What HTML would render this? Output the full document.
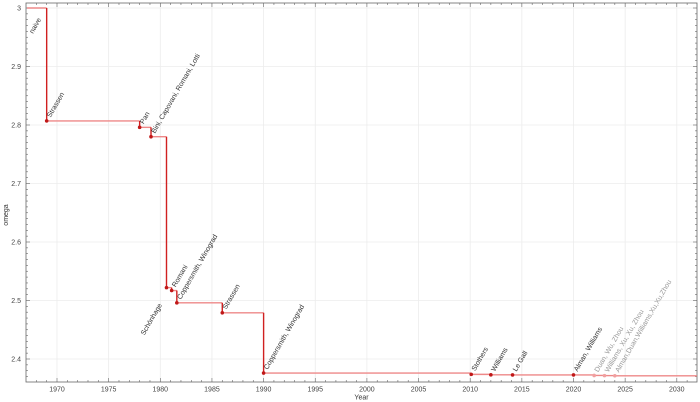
<!DOCTYPE html>
<html><head><meta charset="utf-8"><style>
body{margin:0;background:#fff;}
svg{display:block;font-family:"Liberation Sans","DejaVu Sans",sans-serif;}
</style></head><body>
<svg id="s" width="700" height="402" viewBox="0 0 700 402" xmlns="http://www.w3.org/2000/svg"></svg>
<script>
const s=document.getElementById('s');
const X=y=>57+(y-1970)*10.33, Y=w=>8+(3-w)*585;
const L=26,R=697,T=3,B=382;
let h='';
for(let yr=1970;yr<=2030;yr+=5){const x=X(yr);h+=`<line x1="${x}" y1="${T}" x2="${x}" y2="${B}" stroke="#ececec" stroke-width="0.8"/>`;
 h+=`<text x="${x}" y="${B+9.5}" font-size="7" fill="#444" text-anchor="middle">${yr}</text>`;}
for(let i=0;i<=6;i++){const w=3-i*0.1;const y=Y(w);h+=`<line x1="${L}" y1="${y}" x2="${R}" y2="${y}" stroke="#ececec" stroke-width="0.8"/>`;
 h+=`<text x="${L-5}" y="${y+2.5}" font-size="7" fill="#444" text-anchor="end">${i==0?'3':w.toFixed(1)}</text>`;}
for(let yr=1968;yr<=2031;yr++){const x=X(yr);const l=yr%5==0?4:2;h+=`<line x1="${x}" y1="${B}" x2="${x}" y2="${B-l}" stroke="#666" stroke-width="0.6"/><line x1="${x}" y1="${T}" x2="${x}" y2="${T+l}" stroke="#666" stroke-width="0.6"/>`;}
for(let w=2.37;w<=3.0001;w+=0.01){const y=Y(w);const l=Math.abs(w*10-Math.round(w*10))<0.01?4:2;h+=`<line x1="${L}" y1="${y}" x2="${L+l}" y2="${y}" stroke="#666" stroke-width="0.6"/><line x1="${R}" y1="${y}" x2="${R-l}" y2="${y}" stroke="#666" stroke-width="0.6"/>`;}
h+=`<rect x="${L}" y="${T}" width="${R-L}" height="${B-T}" fill="none" stroke="#666" stroke-width="0.8"/>`;
const pts=[[1967.1,3,'naive'],[1969.0,2.807,'Strassen'],[1978.0,2.796,'Pan'],[1979.1,2.780,'Bini, Capovani, Romani, Lotti'],[1980.6,2.522,'Schönhage'],[1981.1,2.517,'Romani'],[1981.6,2.496,'Coppersmith, Winograd'],[1986.0,2.479,'Strassen'],[1990.0,2.376,'Coppersmith, Winograd'],[2010.1,2.3737,'Stothers'],[2012.0,2.3729,'Williams'],[2014.1,2.3728,'Le Gall'],[2020.0,2.3728,'Alman, Williams'],[2022.0,2.3719,'Duan, Wu, Zhou'],[2023.0,2.3716,'Williams, Xu, Xu, Zhou'],[2024.0,2.3713,'Alman,Duan,Williams,Xu,Xu,Zhou']];
for(let i=0;i<pts.length;i++){const [a,w]=pts[i];const nx=i<pts.length-1?X(pts[i+1][0]):R;
 h+=`<line x1="${X(a)}" y1="${Y(w)}" x2="${nx}" y2="${Y(w)}" stroke="#ee8888" stroke-width="1.4"/>`;
 if(i<pts.length-1)h+=`<line x1="${nx}" y1="${Y(w)}" x2="${nx}" y2="${Y(pts[i+1][1])}" stroke="#d02020" stroke-width="1.4"/>`;}
for(let i=1;i<pts.length;i++){const [a,w,n]=pts[i];const x=X(a),y=Y(w);const gray=i>=13;
 h+=`<circle cx="${x}" cy="${y}" r="1.8" fill="${gray?'#f0a0a0':'#c01818'}"/>`;
 if(n==='Schönhage'){h+=`<text transform="translate(${x-22},${y+48}) rotate(-60)" font-size="7" fill="#333">${n}</text>`;}
 else h+=`<text transform="translate(${x+4},${y-3}) rotate(-60)" font-size="7" fill="${gray?'#999':'#333'}">${n}</text>`;}
h+=`<text transform="translate(33,34) rotate(-60)" font-size="7" fill="#333">naive</text>`;
h+=`<text x="${(L+R)/2}" y="399.5" font-size="7" fill="#333" text-anchor="middle">Year</text>`;
h+=`<text transform="translate(8,215) rotate(-90)" font-size="7" fill="#333" text-anchor="middle">omega</text>`;
s.innerHTML=h;
</script>
</body></html>
